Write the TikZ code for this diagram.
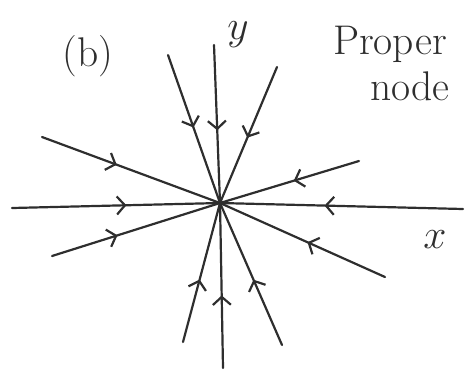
\documentclass[tikz,border=0pt]{standalone}
\usetikzlibrary{decorations.markings,arrows.meta}
\definecolor{ink}{HTML}{2E2E2E}
\tikzset{
  flowline/.style={draw=ink, line width=1.1pt, line cap=round,
    postaction={decorate, decoration={markings,
      mark=at position #1 with {\arrow[ink, line width=1.1pt]{Straight Barb[length=4pt,width=9pt]}}}}},
  lbl/.style={text=ink, inner sep=0pt}
}
\begin{document}
\begin{tikzpicture}[x=0.5pt,y=-0.5pt]
\useasboundingbox (0,0) rectangle (474,381);
\coordinate (O) at (220,203);
\coordinate (yT) at (214,45);
\coordinate (yB) at (223,368);
\coordinate (xL) at (12,208);
\coordinate (xR) at (463,209);
\coordinate (UL) at (168,55);
\coordinate (UR) at (277,67);
\coordinate (LU) at (42,137);
\coordinate (RU) at (359,161);
\coordinate (LL) at (52,256);
\coordinate (RL) at (385,277);
\coordinate (BL) at (183,342);
\coordinate (BR) at (282,345);
\draw[flowline=0.54] (yT) -- (O);
\draw[flowline=0.49] (UL) -- (O);
\draw[flowline=0.52] (UR) -- (O);
\draw[flowline=0.42] (LU) -- (O);
\draw[flowline=0.55] (xL) -- (O);
\draw[flowline=0.39] (LL) -- (O);
\draw[flowline=0.47] (RU) -- (O);
\draw[flowline=0.57] (xR) -- (O);
\draw[flowline=0.47] (RL) -- (O);
\draw[flowline=0.45] (BL) -- (O);
\draw[flowline=0.44] (yB) -- (O);
\draw[flowline=0.46] (BR) -- (O);
\node[lbl, font=\huge] (ylab) at (238,35) {$y$};
\node[lbl, font=\huge] (xlab) at (435,240) {$x$};
\node[lbl, font=\huge] (blab) at (88,56) {(b)};
\node[lbl, font=\huge] (prop) at (390,44) {Proper};
\node[lbl, font=\huge] (node) at (410,86) {node};
\end{tikzpicture}
\end{document}
